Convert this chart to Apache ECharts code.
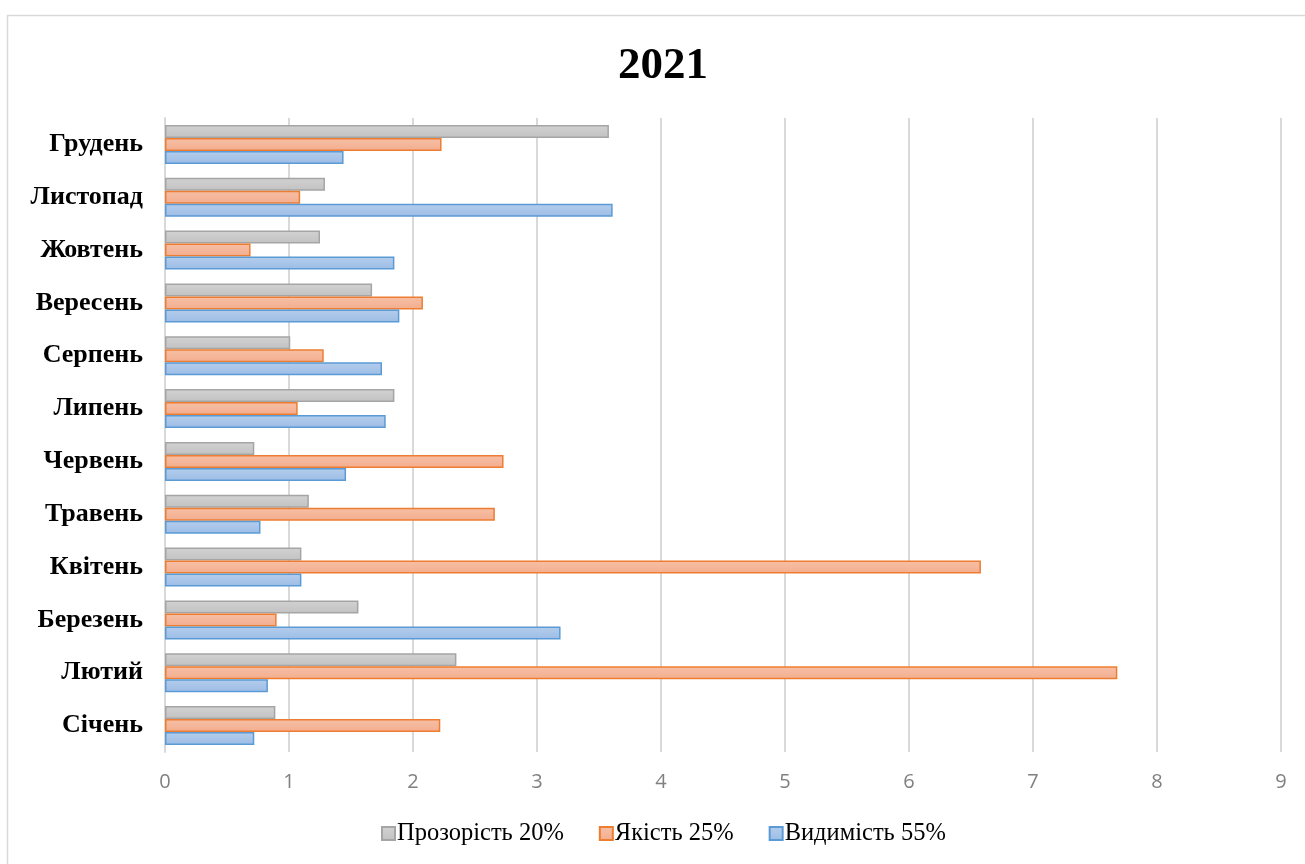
<!DOCTYPE html>
<html>
<head>
<meta charset="utf-8">
<script src="https://cdn.jsdelivr.net/npm/echarts@6/dist/echarts.min.js"></script>
<style>
  html, body { margin: 0; padding: 0; background: #fff; }
  #chart { width: 1305px; height: 864px; }
</style>
</head>
<body>
<div id="chart"></div>
<script>
// місяці, знизу догори
var months = ['Січень', 'Лютий', 'Березень', 'Квітень', 'Травень', 'Червень',
  'Липень', 'Серпень', 'Вересень', 'Жовтень', 'Листопад', 'Грудень'];

var seriesNames = ['Прозорість 20%', 'Якість 25%', 'Видимість 55%'];

// значення
var transparency = [0.89, 2.35, 1.56, 1.10, 1.16, 0.72, 1.85, 1.01, 1.67, 1.25, 1.29, 3.58];
var quality = [2.22, 7.68, 0.90, 6.58, 2.66, 2.73, 1.07, 1.28, 2.08, 0.69, 1.09, 2.23];
var visibility = [0.72, 0.83, 3.19, 1.10, 0.77, 1.46, 1.78, 1.75, 1.89, 1.85, 3.61, 1.44];

var xTicks = [0, 1, 2, 3, 4, 5, 6, 7, 8, 9];

function grad(top, bottom) {
  return new echarts.graphic.LinearGradient(0, 0, 0, 1, [
    { offset: 0, color: top },
    { offset: 1, color: bottom }
  ]);
}

var myChart = echarts.init(document.getElementById('chart'));

// перша серія стоїть угорі групи
var series = [
  {
    name: seriesNames[0],
    type: 'bar',
    data: transparency,
    barWidth: 13,
    barGap: '0%',
    itemStyle: { color: grad('#d2d2d2', '#c2c2c2'), borderColor: '#a5a5a5', borderWidth: 1.5 }
  },
  {
    name: seriesNames[1],
    type: 'bar',
    data: quality,
    barWidth: 13,
    barGap: '0%',
    itemStyle: { color: grad('#f7c0a6', '#f3ad8e'), borderColor: '#ed7d31', borderWidth: 1.5 }
  },
  {
    name: seriesNames[2],
    type: 'bar',
    data: visibility,
    barWidth: 13,
    barGap: '0%',
    itemStyle: { color: grad('#b4cdec', '#9dbde6'), borderColor: '#5b9bd5', borderWidth: 1.5 }
  }
];

var option = {
  backgroundColor: '#fff',
  animation: false,
  title: {
    text: '2021',
    left: 613,
    top: 39,
    textStyle: {
      fontFamily: 'Liberation Serif',
      fontWeight: 'bold',
      fontSize: 45,
      color: '#000'
    }
  },
  legend: {
    data: seriesNames,
    bottom: 13,
    left: 376,
    icon: 'rect',
    itemWidth: 13,
    itemHeight: 13,
    itemGap: 35,
    textStyle: {
      fontFamily: 'Liberation Serif',
      fontSize: 24.5,
      color: '#000',
      padding: [0, 0, 0, -3]
    }
  },
  grid: {
    left: 165,
    right: 24,
    top: 118,
    bottom: 112
  },
  xAxis: {
    type: 'value',
    min: xTicks[0],
    max: xTicks[xTicks.length - 1],
    interval: 1,
    axisLine: { show: false },
    axisTick: { show: false },
    splitLine: { show: true, lineStyle: { color: '#d9d9d9', width: 2 } },
    axisLabel: {
      margin: 20,
      fontFamily: 'Open Sans',
      fontSize: 20,
      color: '#808080'
    }
  },
  yAxis: {
    type: 'category',
    data: months,
    axisLine: { show: true, lineStyle: { color: '#d9d9d9', width: 2 } },
    axisTick: { show: false },
    axisLabel: {
      margin: 22,
      fontFamily: 'Liberation Serif',
      fontWeight: 'bold',
      fontSize: 26,
      color: '#000'
    }
  },
  graphic: [
    {
      type: 'rect',
      shape: { x: 7.5, y: 15.5, width: 1320, height: 870 },
      style: { fill: 'none', stroke: '#d9d9d9', lineWidth: 1.5 },
      silent: true
    }
  ],
  series: series
};

myChart.setOption(option);
</script>
</body>
</html>
